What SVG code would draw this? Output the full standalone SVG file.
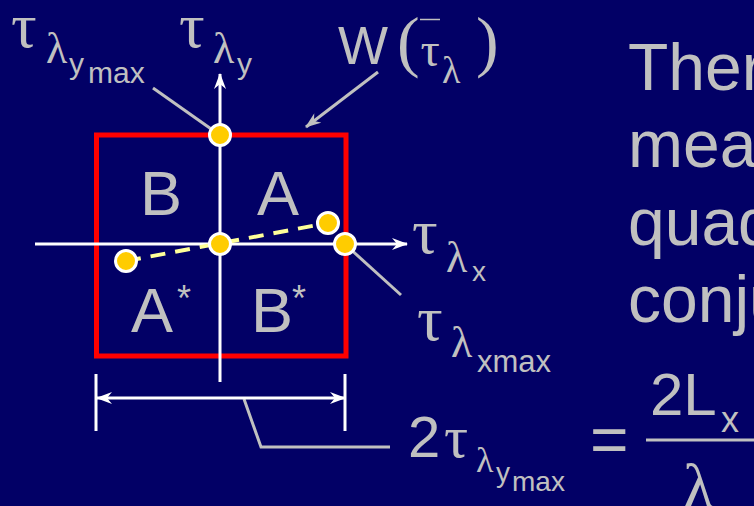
<svg xmlns="http://www.w3.org/2000/svg" width="754" height="506" viewBox="0 0 754 506">
<style>
.s{fill:#c0c0c0;font-family:"Liberation Sans",Arial,sans-serif}
.g{fill:#c0c0c0;font-family:"Liberation Serif","Times New Roman",serif}
.ax{stroke:#fff;stroke-width:3;fill:none}
.ptr{stroke:#c0c0c0;stroke-width:3;fill:none}
.dot{fill:#ffcc00;stroke:#fff;stroke-width:3}
</style>
<defs>
<marker id="aw" markerWidth="16" markerHeight="12" refX="15" refY="6" orient="auto-start-reverse" markerUnits="userSpaceOnUse">
<path d="M0,0 L16,6 L0,12 L5,6 z" fill="#fff"/>
</marker>
<marker id="ag" markerWidth="16" markerHeight="12" refX="15" refY="6" orient="auto" markerUnits="userSpaceOnUse">
<path d="M0,0 L16,6 L0,12 L5,6 z" fill="#c0c0c0"/>
</marker>
</defs>
<rect width="754" height="506" fill="#020066"/>
<g id="box"><rect x="96.5" y="135" width="249.5" height="221" fill="none" stroke="#ff0000" stroke-width="5"/></g>
<g id="connectors">
<line class="ax" x1="220" y1="382" x2="220" y2="74" marker-end="url(#aw)"/>
<line class="ax" x1="35" y1="244" x2="407" y2="244" marker-end="url(#aw)"/>
<line class="ptr" x1="153" y1="88" x2="214" y2="131"/>
<line class="ptr" x1="378" y1="72" x2="306" y2="127" marker-end="url(#ag)"/>
<line class="ptr" x1="347" y1="246" x2="401" y2="295"/>
<polyline class="ptr" points="244,399 261,447 390,447"/>
<line class="ax" x1="97" y1="398" x2="345" y2="398" marker-start="url(#aw)" marker-end="url(#aw)"/>
<line class="ax" x1="96" y1="374" x2="96" y2="431"/>
<line class="ax" x1="345" y1="374" x2="345" y2="431"/>
<line x1="126" y1="261" x2="328" y2="223" stroke="#ffff99" stroke-width="4" stroke-dasharray="15,10"/>
</g>
<g id="dots">
<circle class="dot" cx="220" cy="135" r="10.5"/>
<circle class="dot" cx="220" cy="244" r="10.5"/>
<circle class="dot" cx="345" cy="244" r="10.5"/>
<circle class="dot" cx="328" cy="223" r="10.5"/>
<circle class="dot" cx="126" cy="261" r="10.5"/>
</g>
<g id="quadrants">
<text class="s" x="140" y="215" font-size="63">B</text>
<text class="s" x="257" y="215" font-size="63">A</text>
<text class="s" x="131" y="332" font-size="63">A</text>
<text class="s" x="177" y="311" font-size="36">*</text>
<text class="s" x="251" y="332" font-size="63">B</text>
<text class="s" x="292" y="311" font-size="36">*</text>
</g>
<g id="label-tymax">
<text class="g" x="11" y="47" font-size="64">τ</text>
<text class="g" x="46" y="63" font-size="44">λ</text>
<text class="s" x="69" y="74" font-size="30">y</text>
<text class="s" x="88" y="83" font-size="30">max</text>
</g>
<g id="label-ty">
<text class="g" x="179" y="47" font-size="64">τ</text>
<text class="g" x="213" y="63" font-size="44">λ</text>
<text class="s" x="237" y="74" font-size="30">y</text>
</g>
<g id="label-w">
<text class="s" x="338" y="64" font-size="53">W</text>
<text class="g" x="397" y="64" font-size="68">(</text>
<text class="g" x="420.5" y="66" font-size="48">τ</text>
<line x1="420" y1="19.5" x2="440" y2="19.5" stroke="#c0c0c0" stroke-width="1.5"/>
<text class="g" x="442" y="83" font-size="38">λ</text>
<text class="g" x="476" y="64" font-size="68">)</text>
</g>
<g id="label-tx">
<text class="g" x="412" y="253" font-size="64">τ</text>
<text class="g" x="446" y="272" font-size="44">λ</text>
<text class="s" x="472" y="281" font-size="28">x</text>
</g>
<g id="label-txmax">
<text class="g" x="417" y="340" font-size="64">τ</text>
<text class="g" x="451" y="357" font-size="44">λ</text>
<text class="s" x="477" y="372" font-size="31">xmax</text>
</g>
<g id="label-2tymax">
<text class="s" x="408" y="457" font-size="58">2</text>
<text class="g" x="444" y="457" font-size="60">τ</text>
<text class="g" x="476" y="472" font-size="36">λ</text>
<text class="s" x="496" y="482" font-size="28">y</text>
<text class="s" x="512" y="491" font-size="28">max</text>
</g>
<g id="formula">
<text class="s" x="590" y="462" font-size="66">=</text>
<text class="s" x="650" y="415" font-size="60">2L</text>
<text class="s" x="721" y="432" font-size="36">x</text>
<line x1="646" y1="440" x2="754" y2="440" stroke="#c0c0c0" stroke-width="3"/>
<text class="g" x="683" y="508" font-size="64">λ</text>
</g>
<g id="body-text">
<text class="s" x="628" y="90" font-size="66">Ther</text>
<text class="s" x="628" y="167" font-size="66">mea</text>
<text class="s" x="628" y="245" font-size="66">quad</text>
<text class="s" x="628" y="322" font-size="66">conju</text>
</g>
</svg>
